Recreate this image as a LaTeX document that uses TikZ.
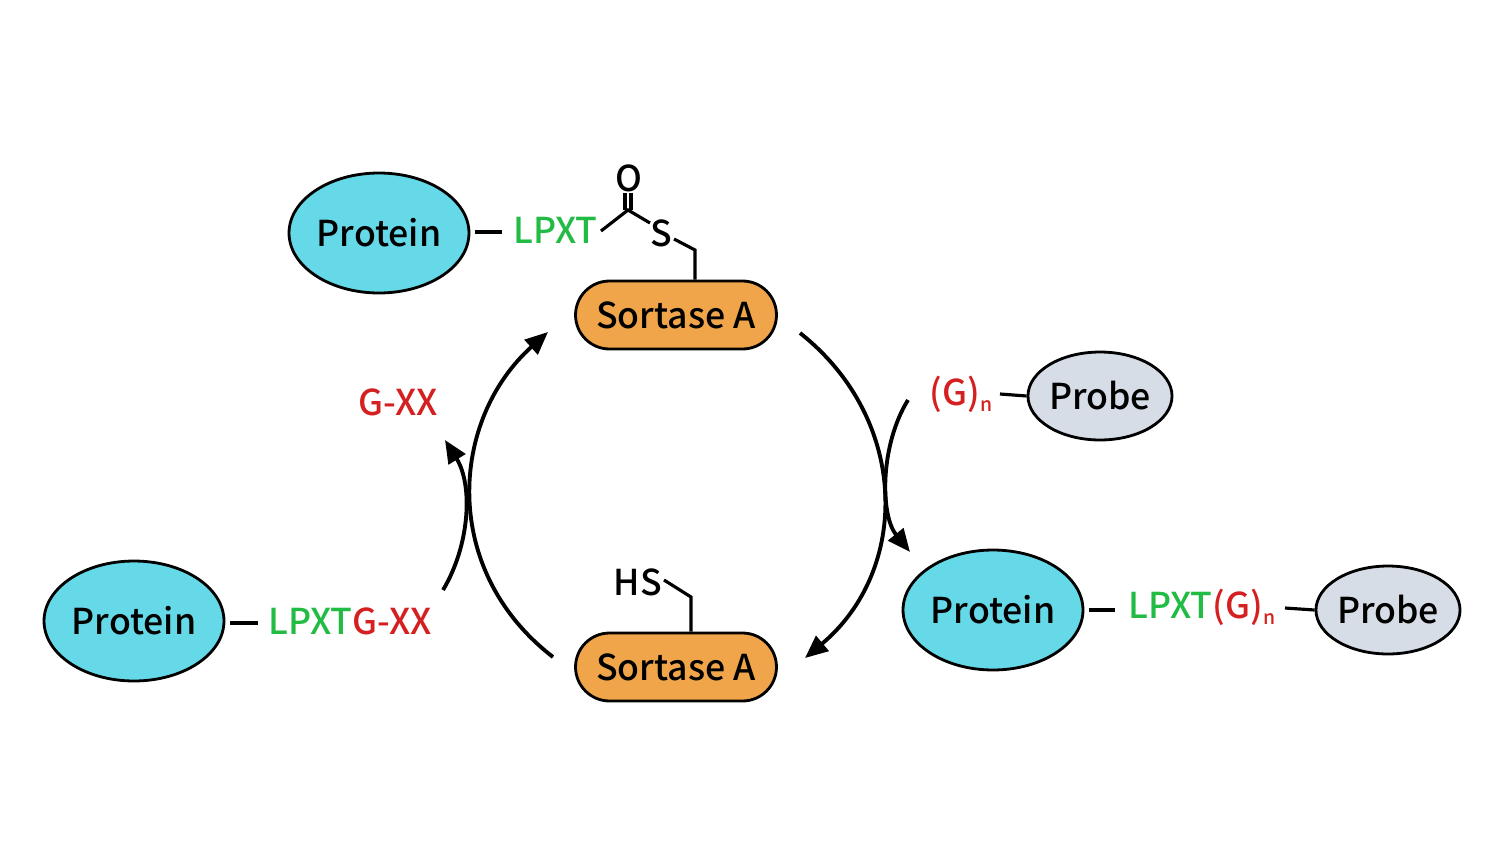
\documentclass[tikz,border=0pt]{standalone}
\usepackage{fontspec}
\setmainfont{Noto Sans CJK SC}[UprightFont=* Medium]
\usetikzlibrary{shapes.geometric,arrows.meta}
\definecolor{cy}{HTML}{66D9E8}
\definecolor{orn}{HTML}{F0A54A}
\definecolor{grn}{HTML}{22BB44}
\definecolor{rd}{HTML}{D42020}
\definecolor{gry}{HTML}{D6DDE6}
\begin{document}
\begin{tikzpicture}[x=0.02cm,y=-0.02cm,
  ell/.style={ellipse,draw,line width=1.6pt,inner sep=0pt,font=\fontsize{20.3}{24}\selectfont},
  prot/.style={ell,fill=cy,minimum width=3.6cm,minimum height=2.4cm},
  probe/.style={ell,fill=gry,minimum width=2.86cm,minimum height=1.76cm},
  sort/.style={draw,line width=1.6pt,fill=orn,rounded corners=0.68cm,minimum width=4.02cm,minimum height=1.36cm,font=\fontsize{20.3}{24}\selectfont},
  txt/.style={inner sep=0pt,font=\fontsize{20.3}{24}\selectfont},
  bond/.style={line width=1.8pt},
  arr/.style={line width=2.2pt,-{Triangle[length=13pt,width=11pt]}}]
\useasboundingbox (0,0) rectangle (1500,859);
% top
\node[prot] (p1) at (379,233) {Protein};
\draw[bond] (475,232) -- (502,232);
\node[txt,text=grn,anchor=west] (t1) at (513,230) {LPXT};
\coordinate (c1) at (628,210); \coordinate (b1) at (601,231);
\node[txt] (o1) at (629,178) {O};
\node[txt] (s1) at (661,233) {S};
\draw[bond] (b1) -- (c1) -- (650,223);
\draw[bond] (625,210) -- (625,193) (631,210) -- (631,193);
\node[sort] (sa1) at (676,315) {Sortase A};
\draw[bond] (674,239) -- (695,250) -- (sa1.north -| 695,0);
% bottom
\node[sort] (sa2) at (676,667) {Sortase A};
\node[txt] (hs) at (638,582) {HS};
\draw[bond] (664,580) -- (691,597) -- (sa2.north -| 691,0);
% left
\node[prot] (p2) at (134,621) {Protein};
\draw[bond] (230,623) -- (258,623);
\node[txt,anchor=west] (t2) at (268,621) {\textcolor{grn}{LPXT}\textcolor{rd}{G-XX}};
\node[txt,text=rd] (gxx) at (398,402) {G-XX};
% right
\node[probe] (pr1) at (1100,396) {Probe};
\node[txt,text=rd] (gn1) at (961,394) {(G)\raisebox{-0.35ex}{\fontsize{11}{12}\selectfont n}};
\draw[bond] (1000,394) -- (pr1.west);
\node[prot] (p3) at (993,610) {Protein};
\draw[bond] (1089,610) -- (1115,610);
\node[txt,anchor=west] (t3) at (1128,607) {\textcolor{grn}{LPXT}\textcolor{rd}{(G)\raisebox{-0.35ex}{\fontsize{11}{12}\selectfont n}}};
\node[probe] (pr2) at (1388,610) {Probe};
\draw[bond] (1285,608) -- (pr2.west);
% arrows
\draw[arr] (553,657) .. controls (440,570) and (450,420) .. (548,332);
\draw[arr] (800,333) .. controls (910,420) and (910,570) .. (805,658);
\draw[arr] (443,590) .. controls (470,545) and (473,485) .. (445,440);
\draw[arr] (908,400) .. controls (880,445) and (880,515) .. (910,552);
\end{tikzpicture}
\end{document}
